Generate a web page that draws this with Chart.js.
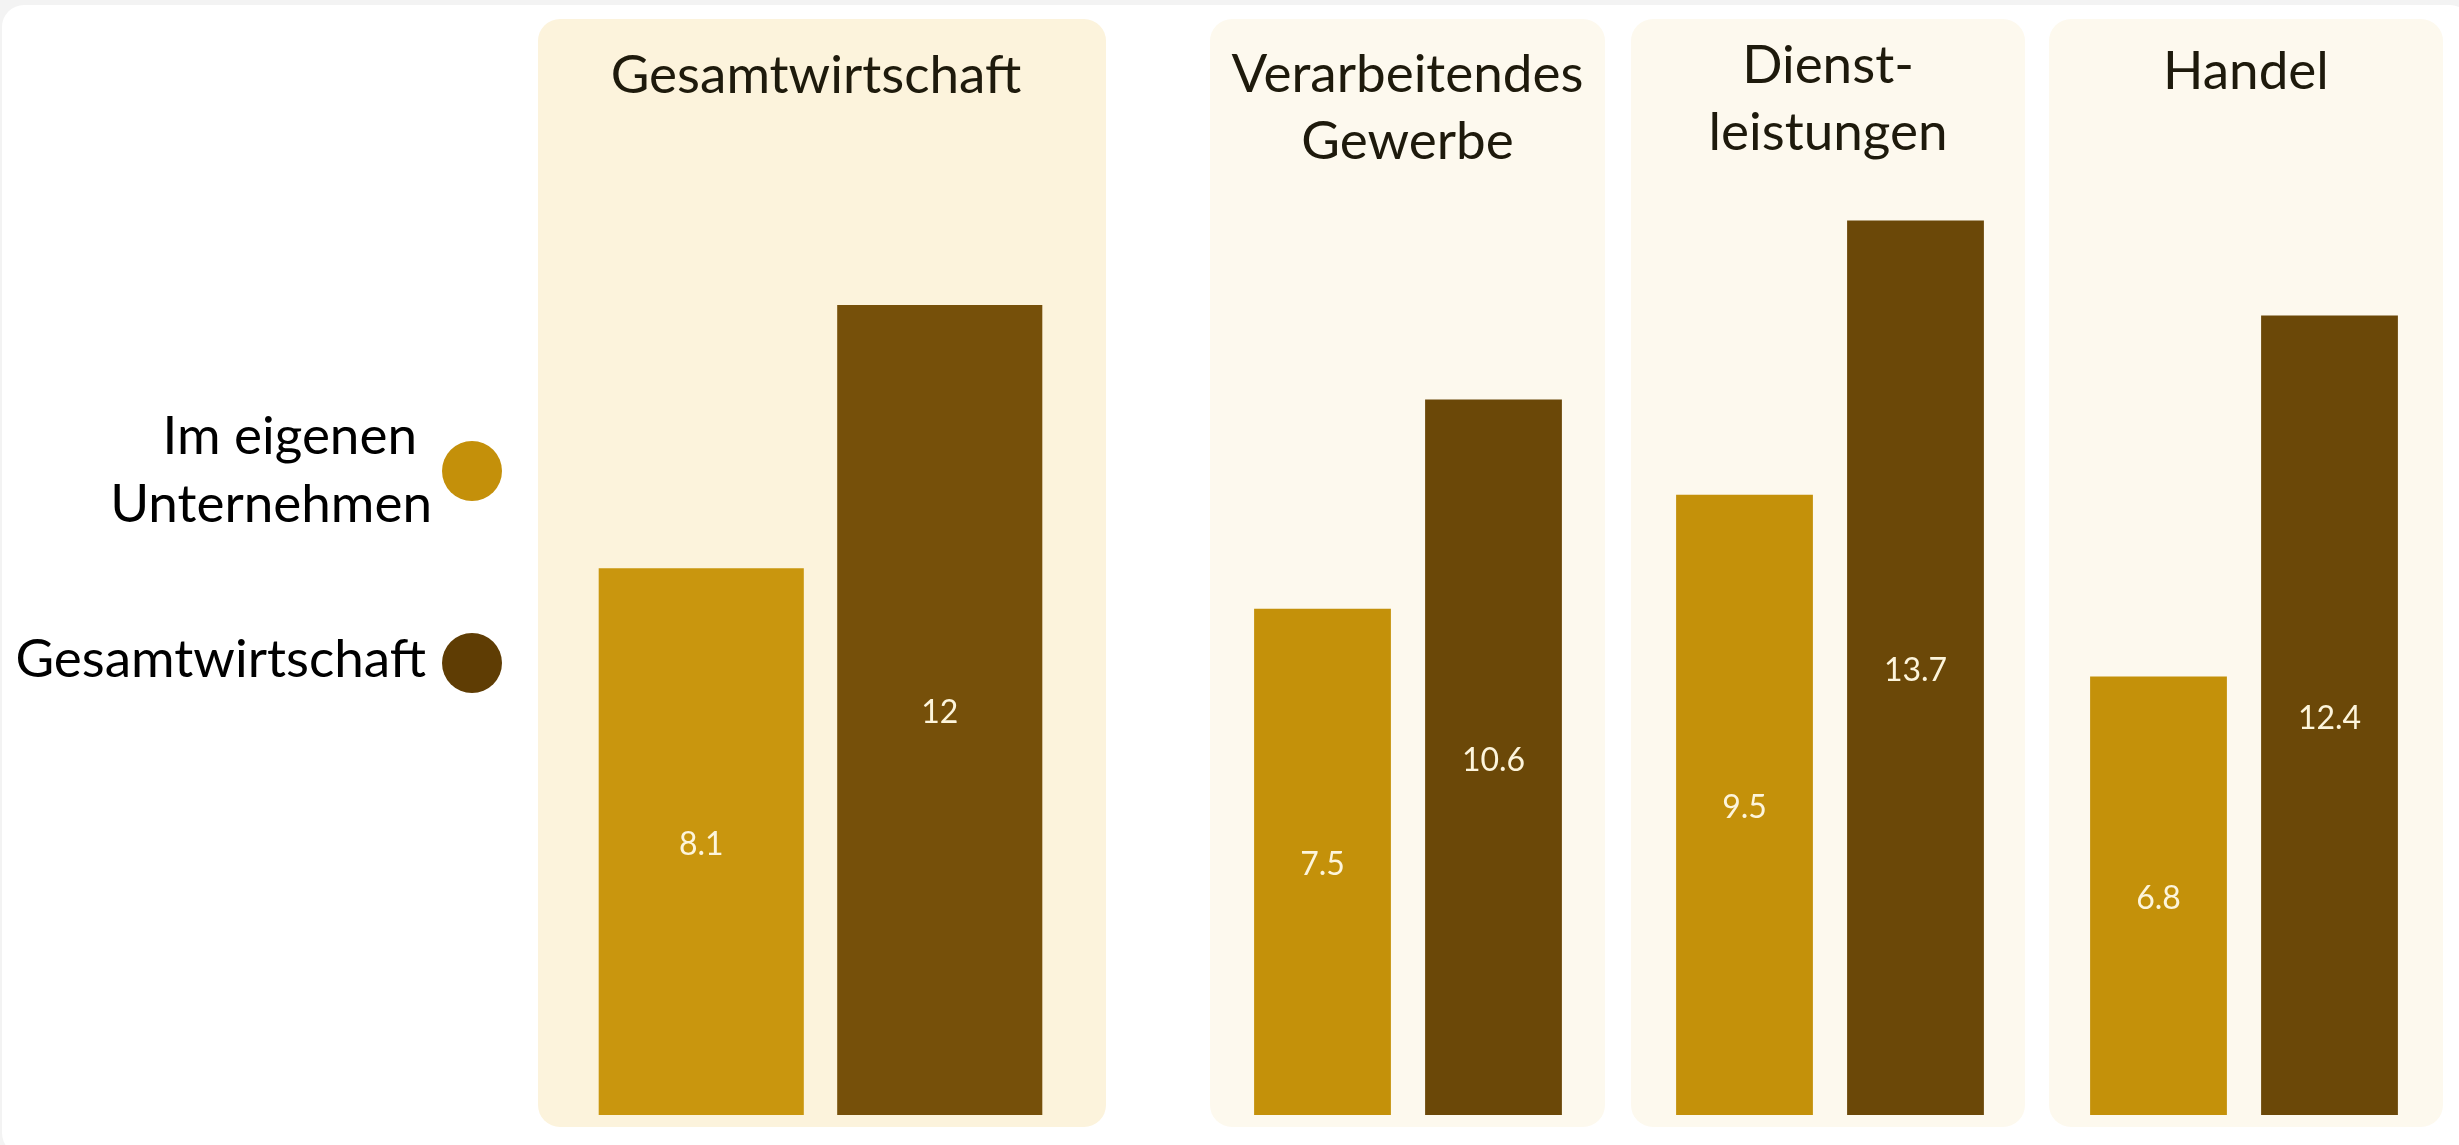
<!DOCTYPE html>
<html lang="de">
<head>
<meta charset="utf-8">
<title>Im eigenen Unternehmen vs. Gesamtwirtschaft</title>
<script src="https://cdn.jsdelivr.net/npm/chart.js@4.4.1/dist/chart.umd.min.js"></script>
<style>
  html, body { margin: 0; padding: 0; background: #f3f3f3; }
  body { width: 2459px; height: 1145px; position: relative; overflow: hidden; font-family: Lato, "Open Sans", sans-serif; }
  .card { position: absolute; left: 2px; top: 5px; width: 2470px; height: 1150px; background: #fff; border-radius: 22px; }
  .panel { position: absolute; top: 19px; height: 1108px; border-radius: 22px; }
  .title { position: absolute; left: 0; right: 0; text-align: center; font-size: 53px; line-height: 67px; color: #1e1a0c; }
  .plot { position: absolute; top: 180px; height: 935px; }
  .legend-line { position: absolute; left: 0; text-align: right; font-size: 53px; line-height: 67px; color: #000; white-space: nowrap; }
  .dot { position: absolute; width: 60px; height: 60px; border-radius: 50%; }
</style>
</head>
<body>
<div class="card"></div>
<div id="legend"></div>
<div id="panels"></div>

<script>
// data
const categories = [['Gesamtwirtschaft'], ['Verarbeitendes', 'Gewerbe'], ['Dienst-', 'leistungen'], ['Handel']];
const seriesNames = ['Im eigenen Unternehmen', 'Gesamtwirtschaft'];
const ownCompany = [8.1, 7.5, 9.5, 6.8];
const wholeEconomy = [12, 10.6, 13.7, 12.4];

// the panels in the original don't share one scale exactly, so each gets its own max
const axisMax = [13.85, 13.85, 14.32, 14.5];

// layout + colours per panel (titleTop is relative to the panel)
const panels = [
  { left: 538,  width: 568, titleTop: 20, titleShift: -12, bg: '#fcf3dc', plotLeft: 581.5, plotWidth: 477, barPct: 0.86, colors: ['#c9960e', '#76500a'] },
  { left: 1210, width: 395, titleTop: 19, titleShift: 0,   bg: '#fdf9ee', plotLeft: 1237,  plotWidth: 342, barPct: 0.80, colors: ['#c4910a', '#6b4808'] },
  { left: 1631, width: 394, titleTop: 10, titleShift: 0,   bg: '#fdf9ee', plotLeft: 1659,  plotWidth: 342, barPct: 0.80, colors: ['#c4910a', '#6b4808'] },
  { left: 2049, width: 394, titleTop: 16, titleShift: 0,   bg: '#fdf9ee', plotLeft: 2073,  plotWidth: 342, barPct: 0.80, colors: ['#c4910a', '#6b4808'] }
];

// legend on the left (html)
const legend = document.getElementById('legend');
const legendLines = [
  { text: 'Im eigenen', right: 417, top: 400 },
  { text: 'Unternehmen', right: 432, top: 468 },
  { text: 'Gesamtwirtschaft', right: 426, top: 623 }
];
legendLines.forEach(l => {
  const d = document.createElement('div');
  d.className = 'legend-line';
  d.style.width = l.right + 'px';
  d.style.top = l.top + 'px';
  d.textContent = l.text;
  legend.appendChild(d);
});
[['#c4900a', 441], ['#5f3d04', 633]].forEach(([c, top]) => {
  const d = document.createElement('div');
  d.className = 'dot';
  d.style.background = c;
  d.style.left = '442px';
  d.style.top = top + 'px';
  legend.appendChild(d);
});

// value labels in the middle of each bar
const barLabels = {
  id: 'barLabels',
  afterDatasetsDraw(chart) {
    const ctx = chart.ctx;
    ctx.save();
    ctx.font = '32px Lato, "Open Sans", sans-serif';
    ctx.fillStyle = '#fdf5dc';
    ctx.textAlign = 'center';
    ctx.textBaseline = 'middle';
    chart.data.datasets.forEach((ds, i) => {
      chart.getDatasetMeta(i).data.forEach((bar, j) => {
        const v = ds.data[j];
        ctx.fillText(String(v), bar.x, (bar.y + bar.base) / 2 + 3);
      });
    });
    ctx.restore();
  }
};

const host = document.getElementById('panels');

panels.forEach((p, i) => {
  const box = document.createElement('div');
  box.className = 'panel';
  box.style.left = p.left + 'px';
  box.style.width = p.width + 'px';
  box.style.background = p.bg;
  host.appendChild(box);

  const t = document.createElement('div');
  t.className = 'title';
  t.style.top = p.titleTop + 'px';
  t.style.left = p.titleShift + 'px';
  t.innerHTML = categories[i].join('<br>');
  box.appendChild(t);

  const wrap = document.createElement('div');
  wrap.className = 'plot';
  wrap.style.left = p.plotLeft + 'px';
  wrap.style.width = p.plotWidth + 'px';
  document.body.appendChild(wrap);
  const cv = document.createElement('canvas');
  wrap.appendChild(cv);

  new Chart(cv, {
    type: 'bar',
    data: {
      labels: [categories[i].join(' ')],
      datasets: [
        { label: seriesNames[0], data: [ownCompany[i]], backgroundColor: p.colors[0] },
        { label: seriesNames[1], data: [wholeEconomy[i]], backgroundColor: p.colors[1] }
      ]
    },
    options: {
      responsive: true,
      maintainAspectRatio: false,
      animation: false,
      datasets: { bar: { categoryPercentage: 1, barPercentage: p.barPct, borderWidth: 0 } },
      layout: { padding: 0 },
      plugins: { legend: { display: false }, tooltip: { enabled: false } },
      scales: {
        x: { display: false },
        y: { display: false, min: 0, max: axisMax[i] }
      }
    },
    plugins: [barLabels]
  });
});
</script>
</body>
</html>
